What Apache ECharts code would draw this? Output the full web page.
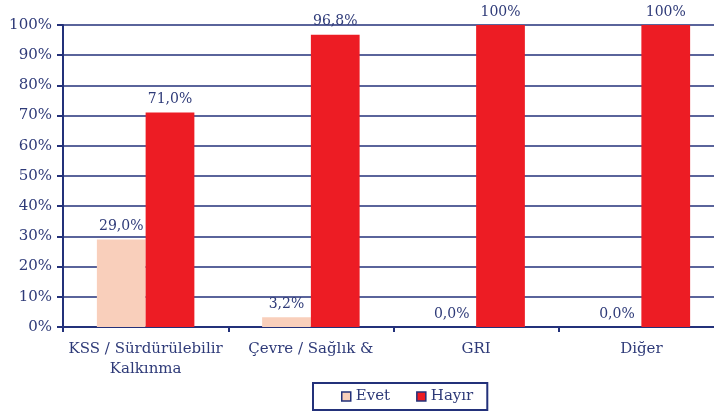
<!DOCTYPE html>
<html><head><meta charset="utf-8">
<script src="https://cdn.jsdelivr.net/npm/echarts@6/dist/echarts.min.js"></script>
<style>html,body{margin:0;padding:0;background:#fff;overflow:hidden;width:714px;height:415px}#c{width:724px;height:415px}</style>
</head><body><div id="c"></div>
<script>
const categories = ['KSS / Sürdürülebilir\nKalkınma', 'Çevre / Sağlık &', 'GRI', 'Diğer'];
const evetValues = [29.0, 3.2, 0.0, 0.0];
const hayirValues = [71.0, 96.8, 100, 100];
const evetLabels = ['29,0%', '3,2%', '0,0%', '0,0%'];
const hayirLabels = ['71,0%', '96,8%', '100%', '100%'];
const yTicks = [0, 10, 20, 30, 40, 50, 60, 70, 80, 90, 100];

const navy = '#23317a';
const txt = '#2e3a78';
const font = 'DejaVu Serif';
const chart = echarts.init(document.getElementById('c'));
chart.setOption({
  animation: false,
  textStyle: {fontFamily: font},
  grid: {left: 63, right: 0, top: 25, bottom: 88},
  legend: {
    data: ['Evet', 'Hayır'],
    left: 313, top: 383,
    padding: [6, 14, 6, 28],
    itemGap: 26,
    borderColor: navy, borderWidth: 2,
    itemWidth: 9, itemHeight: 9,
    icon: 'rect',
    itemStyle: {borderColor: navy, borderWidth: 1.5},
    textStyle: {fontFamily: font, fontSize: 15, color: txt}
  },
  xAxis: {
    type: 'category', data: categories,
    axisLine: {lineStyle: {color: navy, width: 2}},
    axisTick: {show: true, length: 5, lineStyle: {color: navy, width: 2}},
    axisLabel: {fontFamily: font, fontSize: 15, color: txt, margin: 12, lineHeight: 20, interval: 0}
  },
  yAxis: {
    type: 'value', min: 0, max: 100, interval: 10,
    axisLine: {show: true, lineStyle: {color: navy, width: 2}},
    axisTick: {show: true, length: 6, lineStyle: {color: navy, width: 2}},
    splitLine: {lineStyle: {color: navy, width: 1.6}},
    axisLabel: {fontFamily: font, fontSize: 15, color: txt, margin: 11,
      formatter: v => yTicks.includes(v) ? v + '%' : ''}
  },
  series: [
    {name: 'Evet', type: 'bar', data: evetValues, barGap: '0%', barCategoryGap: '41%',
      itemStyle: {color: '#f9cfbb'},
      label: {show: true, position: 'top', distance: 6, fontFamily: font, fontSize: 14, color: txt,
        formatter: p => evetLabels[p.dataIndex]}},
    {name: 'Hayır', type: 'bar', data: hayirValues, barGap: '0%', barCategoryGap: '41%',
      itemStyle: {color: '#ed1c24'},
      label: {show: true, position: 'top', distance: 6, fontFamily: font, fontSize: 14, color: txt,
        formatter: p => hayirLabels[p.dataIndex]}}
  ]
});
</script></body></html>
